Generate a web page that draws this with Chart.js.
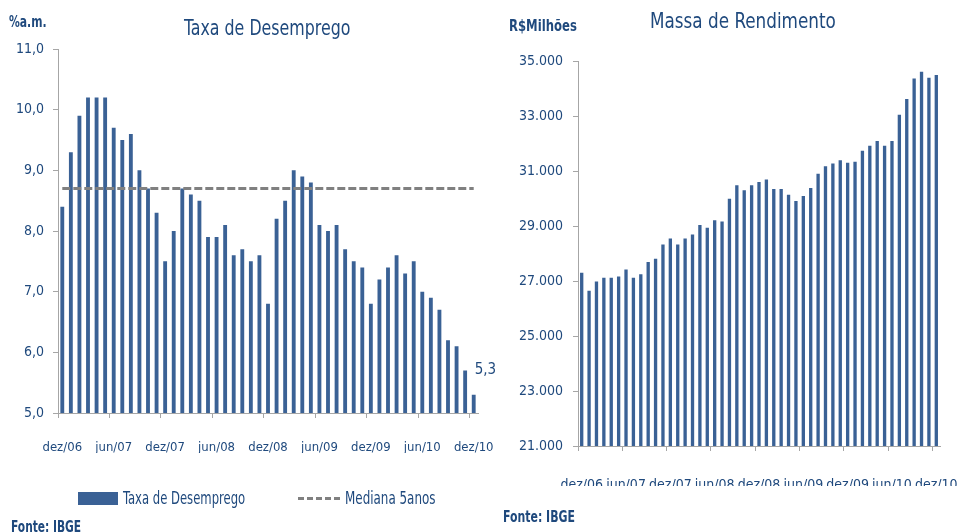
<!DOCTYPE html>
<html>
<head>
<meta charset="utf-8">
<script src="https://cdn.jsdelivr.net/npm/chart.js@4.4.1/dist/chart.umd.min.js"></script>
<style>
  body { margin: 0; background: #fff; width: 961px; height: 532px; overflow: hidden; position: relative;
         font-family: "DejaVu Sans Condensed", sans-serif; color: #1F497D; }
  .box { position: absolute; top: 0; height: 532px; }
  .txt { position: absolute; white-space: nowrap; line-height: 1; transform-origin: 0 0; }
  .sw { position: absolute; }
</style>
</head>
<body>
<div class="box" style="left:0;width:500px"><canvas id="desemprego"></canvas></div>
<div class="box" style="left:490px;width:471px"><canvas id="rendimento"></canvas></div>

<div class="txt" style="left:9px;top:14px;font-size:16px;font-weight:bold;transform:scaleX(0.75)">%a.m.</div>
<div class="txt" style="left:184px;top:17px;font-size:22px;transform:scaleX(0.80)">Taxa de Desemprego</div>
<div class="txt" style="left:509px;top:18px;font-size:16px;font-weight:bold;transform:scaleX(0.81)">R$Milhões</div>
<div class="txt" style="left:650px;top:10px;font-size:22px;transform:scaleX(0.85)">Massa de Rendimento</div>

<div class="sw" style="left:78px;top:492px;width:40px;height:13px;background:#3A6195"></div>
<div class="txt" style="left:123px;top:490px;font-size:17px;transform:scaleX(0.76)">Taxa de Desemprego</div>
<div class="sw" style="left:298px;top:497px;width:42px;height:0;border-top:3px dashed #808080"></div>
<div class="txt" style="left:345px;top:490px;font-size:17px;transform:scaleX(0.78)">Mediana 5anos</div>

<div class="txt" style="left:11px;top:520px;font-size:15px;font-weight:bold;transform:scaleX(0.79)">Fonte: IBGE</div>
<div class="txt" style="left:503px;top:510px;font-size:15px;font-weight:bold;transform:scaleX(0.81)">Fonte: IBGE</div>

<script>
// meses dez/06 .. dez/10
const meses = ["dez/06","jan/07","fev/07","mar/07","abr/07","mai/07","jun/07","jul/07","ago/07","set/07","out/07","nov/07",
  "dez/07","jan/08","fev/08","mar/08","abr/08","mai/08","jun/08","jul/08","ago/08","set/08","out/08","nov/08",
  "dez/08","jan/09","fev/09","mar/09","abr/09","mai/09","jun/09","jul/09","ago/09","set/09","out/09","nov/09",
  "dez/09","jan/10","fev/10","mar/10","abr/10","mai/10","jun/10","jul/10","ago/10","set/10","out/10","nov/10","dez/10"];

const taxaDesemprego = [8.4,9.3,9.9,10.2,10.2,10.2,9.7,9.5,9.6,9.0,8.7,8.3,
  7.5,8.0,8.7,8.6,8.5,7.9,7.9,8.1,7.6,7.7,7.5,7.6,
  6.8,8.2,8.5,9.0,8.9,8.8,8.1,8.0,8.1,7.7,7.5,7.4,
  6.8,7.2,7.4,7.6,7.3,7.5,7.0,6.9,6.7,6.2,6.1,5.7,5.3];
const medianaValor = 8.7;
const mediana5anos = meses.map(() => medianaValor);

const massaRendimento = [27300,26650,26980,27120,27120,27160,27420,27120,27250,27690,27810,28330,
  28550,28330,28550,28690,29040,28940,29210,29160,29990,30480,30300,30480,
  30600,30690,30350,30350,30140,29910,30090,30380,30900,31170,31270,31390,
  31300,31340,31740,31920,32090,31920,32090,33050,33620,34360,34610,34390,34490];

const azul = '#3A6195';
const textoCor = '#1F497D';
const eixoCor = '#A6A6A6';
const fonte = "'DejaVu Sans Condensed', sans-serif";

Chart.defaults.font.family = fonte;
Chart.defaults.color = textoCor;

function xEixo(size, pad, h) {
  return {
    offset: true,
    grid: {
      offset: true, drawOnChartArea: false, tickLength: 5,
      color: ctx => (ctx.index % 6 === 0 ? eixoCor : 'rgba(0,0,0,0)')
    },
    border: { color: eixoCor },
    ticks: {
      autoSkip: false, maxRotation: 0, minRotation: 0, padding: pad,
      font: { size: size }, color: textoCor,
      callback: (v, i) => (i % 6 === 0 ? meses[i] : '')
    },
    afterFit: s => { s.height = h; s.paddingLeft = 0; s.paddingRight = 0; }
  };
}

// rótulo do último valor
const ultimoRotulo = {
  id: 'ultimoRotulo',
  afterDatasetsDraw(chart) {
    const meta = chart.getDatasetMeta(0);
    const i = taxaDesemprego.length - 1;
    const bar = meta.data[i];
    const c = chart.ctx;
    c.save();
    c.font = '15px ' + fonte;
    c.fillStyle = textoCor;
    c.textAlign = 'left';
    c.textBaseline = 'middle';
    c.fillText(taxaDesemprego[i].toFixed(1).replace('.', ','), bar.x + 1, bar.y - 25);
    c.restore();
  }
};

new Chart(document.getElementById('desemprego'), {
  type: 'bar',
  data: {
    labels: meses,
    datasets: [
      {
        label: 'Taxa de Desemprego',
        data: taxaDesemprego,
        backgroundColor: azul,
        categoryPercentage: 1,
        barPercentage: 0.45,
        order: 2
      },
      {
        type: 'line',
        label: 'Mediana 5anos',
        data: mediana5anos,
        borderColor: '#808080',
        borderWidth: 3,
        borderDash: [8, 3],
        pointRadius: 0,
        fill: false,
        order: 1
      }
    ]
  },
  options: {
    responsive: true,
    maintainAspectRatio: false,
    animation: false,
    layout: { padding: { top: 49, right: 22, left: 0, bottom: 79 } },
    plugins: { legend: { display: false }, tooltip: { enabled: false } },
    scales: {
      x: xEixo(13, 22, 40),
      y: {
        min: 5, max: 11,
        grid: { drawOnChartArea: false, tickLength: 5, color: eixoCor },
        border: { color: eixoCor },
        ticks: {
          stepSize: 1, padding: 9, font: { size: 14 }, color: textoCor,
          callback: v => v.toFixed(1).replace('.', ',')
        },
        afterFit: s => { s.width = 58; }
      }
    }
  },
  plugins: [ultimoRotulo]
});

new Chart(document.getElementById('rendimento'), {
  type: 'bar',
  data: {
    labels: meses,
    datasets: [
      {
        label: 'Massa de Rendimento',
        data: massaRendimento,
        backgroundColor: azul,
        categoryPercentage: 1,
        barPercentage: 0.45
      }
    ]
  },
  options: {
    responsive: true,
    maintainAspectRatio: false,
    animation: false,
    layout: { padding: { top: 61, right: 21, left: 0, bottom: 46 } },
    plugins: { legend: { display: false }, tooltip: { enabled: false } },
    scales: {
      x: xEixo(14, 26, 40),
      y: {
        min: 21000, max: 35000,
        grid: { drawOnChartArea: false, tickLength: 5, color: eixoCor },
        border: { color: eixoCor },
        ticks: {
          stepSize: 2000, padding: 10, font: { size: 14 }, color: textoCor,
          callback: v => (v / 1000).toFixed(3)
        },
        afterFit: s => { s.width = 88; }
      }
    }
  }
});
</script>
</body>
</html>
